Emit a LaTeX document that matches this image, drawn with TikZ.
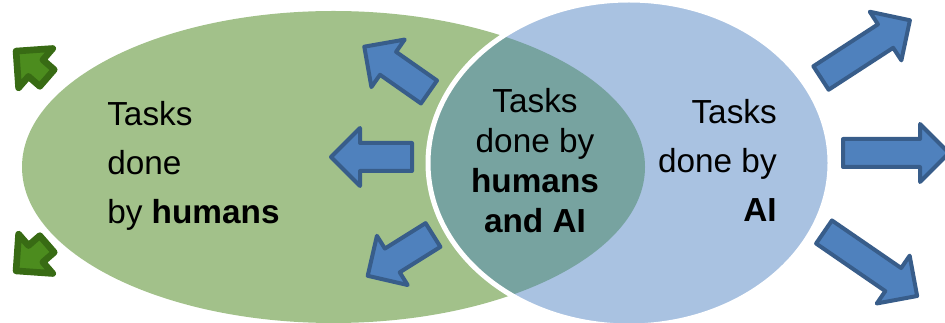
\documentclass[tikz,border=0pt]{standalone}
\usepackage{fontspec}
\setmainfont{Liberation Sans}
\usepackage{tikz}
\usepackage{xcolor}

\definecolor{humangreen}{HTML}{A2C18A}
\definecolor{aiblue}{HTML}{A9C2E1}
\definecolor{bothteal}{HTML}{77A3A0}
\definecolor{arrowfill}{HTML}{4F81BD}
\definecolor{arrowline}{HTML}{385D8A}
\definecolor{leaffill}{HTML}{4C8C1E}
\definecolor{leafline}{HTML}{386B14}

% block arrow: style, tail point, angle, length, shaft half width, head half width
\newcommand{\blockarrow}[6]{%
  \draw[#1,shift={#2},rotate=#3] (0,-#5) -- (#4-#6,-#5) -- (#4-#6,-#6) -- (#4,0)
    -- (#4-#6,#6) -- (#4-#6,#5) -- (0,#5) -- cycle;}

\tikzset{
  bluearrow/.style={fill=arrowfill,draw=arrowline,line width=3pt,line join=round},
  greenarrow/.style={fill=leaffill,draw=leafline,line width=5pt,line join=round},
  label/.style={inner sep=0pt,font=\fontsize{25}{36.75}\selectfont}
}

\begin{document}
\begin{tikzpicture}[x=0.75pt,y=-0.75pt,line cap=round]
\clip (0,0) rectangle (945,323);
% the two sets and their overlap
\fill[humangreen] (333.5,167) ellipse [x radius=311.5,y radius=156];
\fill[aiblue] (629,163) ellipse [x radius=201,y radius=163];
\begin{scope}
\clip (333.5,167) ellipse [x radius=311.5,y radius=156];
\fill[bothteal] (629,163) ellipse [x radius=201,y radius=163];
\end{scope}
\draw[white,line width=3.75pt] (629,163) ellipse [x radius=201,y radius=163];

% arrows out of the sets
\blockarrow{bluearrow}{(429,92)}{145}{79}{14}{29}
\blockarrow{bluearrow}{(412,157)}{180}{81}{14}{29}
\blockarrow{bluearrow}{(433,235)}{212}{77}{14}{29}
\blockarrow{bluearrow}{(821,78)}{33}{106}{14}{29}
\blockarrow{bluearrow}{(843,153)}{0}{106}{14}{29}
\blockarrow{bluearrow}{(824,232)}{-34.5}{113}{14}{29}
\blockarrow{greenarrow}{(47,78)}{139}{41}{11}{26}
\blockarrow{greenarrow}{(47,244)}{221}{41}{11}{26}

% labels
\node[label,anchor=north west,align=left] (humans) at (107,101)
  {Tasks\\done\\by \textbf{humans}};
\node[label,anchor=north,align=center,font=\fontsize{25}{30}\selectfont] (both) at (535,88)
  {Tasks\\done by\\\textbf{humans}\\\textbf{and AI}};
\node[label,anchor=north east,align=right] (ai) at (777,99)
  {Tasks\\done by\\\textbf{AI}};
\end{tikzpicture}
\end{document}
